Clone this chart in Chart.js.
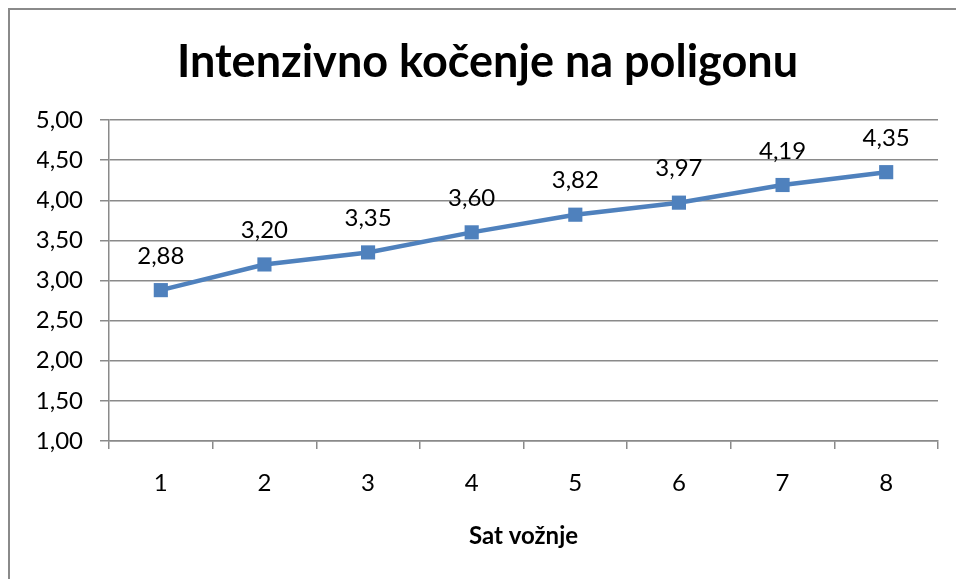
<!DOCTYPE html>
<html>
<head>
<meta charset="utf-8">
<script src="https://cdn.jsdelivr.net/npm/chart.js@4.4.1/dist/chart.umd.min.js"></script>
<style>
    html, body { margin: 0; padding: 0; background: #ffffff; overflow: hidden; }
    #wrap { position: relative; width: 956px; height: 579px; }
    #frame {
        position: absolute; left: 8px; top: 8px;
        width: 1000px; height: 700px;
        border: 2px solid #8a8a8a; box-sizing: border-box;
        pointer-events: none;
    }
    canvas { position: absolute; left: 0; top: 0; }
</style>
</head>
<body>
<div id="wrap">
    <canvas id="chart" width="956" height="579"></canvas>
    <div id="frame"></div>
</div>
<script>
// Chart data
const hours = ['1', '2', '3', '4', '5', '6', '7', '8'];
const brakingValues = [2.88, 3.20, 3.35, 3.60, 3.82, 3.97, 4.19, 4.35];
const yTicks = [1.0, 1.5, 2.0, 2.5, 3.0, 3.5, 4.0, 4.5, 5.0];

const FONT = 'Lato, "Open Sans", sans-serif';
const GRID = '#8a8a8a';
const BLUE = '#4f81bd';

function fmt(v) {
    return v.toFixed(2).replace('.', ',');
}

/**
 * Draw value labels above each point
 */
const valueLabels = {
    id: 'valueLabels',
    afterDatasetsDraw(chart) {
        const ctx = chart.ctx;
        const meta = chart.getDatasetMeta(0);
        ctx.save();
        ctx.font = '24px ' + FONT;
        ctx.fillStyle = '#000000';
        ctx.textAlign = 'center';
        ctx.textBaseline = 'middle';
        meta.data.forEach((pt, i) => {
            ctx.fillText(fmt(chart.data.datasets[0].data[i]), pt.x, pt.y - 34);
        });
        ctx.restore();
    }
};

new Chart(document.getElementById('chart'), {
    type: 'line',
    data: {
        labels: hours,
        datasets: [{
            data: brakingValues,
            borderColor: BLUE,
            backgroundColor: BLUE,
            borderWidth: 4.5,
            pointStyle: 'rect',
            pointRadius: 10,
            pointBorderWidth: 0,
            tension: 0
        }]
    },
    options: {
        responsive: false,
        animation: false,
        layout: {
            padding: { left: 37, right: 18, top: 0, bottom: 0 }
        },
        plugins: {
            legend: { display: false },
            tooltip: { enabled: false },
            title: {
                display: true,
                text: 'Intenzivno kočenje na poligonu',
                color: '#000000',
                font: { family: FONT, size: 45, weight: 'bold', lineHeight: 1.2 },
                padding: { top: 35, bottom: 31 }
            }
        },
        scales: {
            x: {
                offset: true,
                grid: {
                    offset: true,
                    drawOnChartArea: false,
                    color: GRID,
                    lineWidth: 1.5,
                    tickLength: 8
                },
                border: { color: GRID, width: 1.5 },
                ticks: {
                    color: '#000000',
                    padding: 20,
                    font: { family: FONT, size: 24 }
                },
                title: {
                    display: true,
                    text: 'Sat vožnje',
                    color: '#000000',
                    font: { family: FONT, size: 24, weight: 'bold', lineHeight: 1.2 },
                    padding: { top: 0, bottom: 28 }
                },
                afterFit(scale) {
                    scale.height = 138;
                }
            },
            y: {
                min: 1,
                max: 5,
                afterBuildTicks(scale) {
                    scale.ticks = yTicks.map(v => ({ value: v }));
                },
                grid: {
                    color: GRID,
                    lineWidth: 1.5,
                    tickLength: 9
                },
                border: { color: GRID, width: 1.5 },
                ticks: {
                    color: '#000000',
                    padding: 17,
                    font: { family: FONT, size: 24 },
                    callback: v => fmt(v)
                },
                afterFit(scale) {
                    scale.width = 72;
                }
            }
        }
    },
    plugins: [valueLabels]
});
</script>
</body>
</html>
